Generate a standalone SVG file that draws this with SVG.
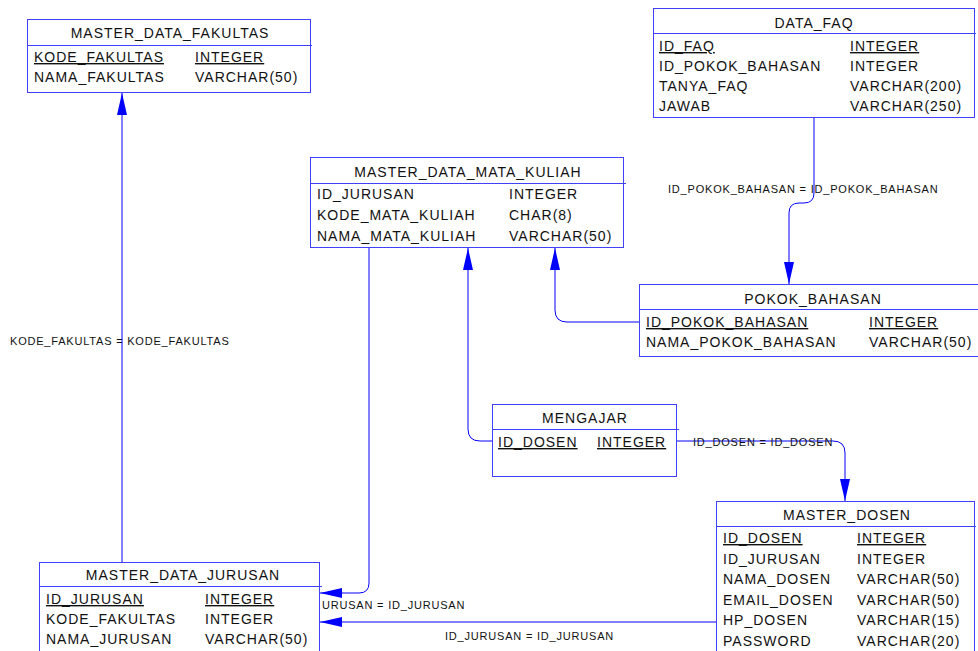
<svg xmlns="http://www.w3.org/2000/svg" width="978" height="651" viewBox="0 0 978 651">
  <style>
    .box { fill: #ffffff; stroke: #4040ff; stroke-width: 1; }
    .sep { stroke: #4040ff; stroke-width: 1; }
    .t { font-family: "Liberation Sans", Arial, sans-serif; font-size: 14px; letter-spacing: 1px; fill: #111111; }
    .title { text-anchor: middle; }
    .pk { text-decoration: underline; }
    .lbl { font-family: "Liberation Sans", Arial, sans-serif; font-size: 11px; letter-spacing: 0.8px; fill: #111111; }
    .conn { fill: none; stroke: #0000ff; stroke-width: 1; marker-end: url(#arrow); }
  </style>
  <defs>
    <marker id="arrow" markerUnits="userSpaceOnUse" markerWidth="22" markerHeight="10" refX="22" refY="5" orient="auto">
      <path d="M0,0 L22,5 L0,10 Z" fill="#0000ff"/>
    </marker>
  </defs>
  <rect width="978" height="651" fill="#ffffff"/>

  <!-- relationships -->
  <g id="connectors">
    <path class="conn" d="M122,562 V93"/>
    <path class="conn" d="M369,248 V583 Q369,593 359,593 H320"/>
    <path class="conn" d="M716,622 H320"/>
    <path class="conn" d="M492,441 H480 Q468,441 468,429 V248"/>
    <path class="conn" d="M639,322 H567 Q555,322 555,310 V248"/>
    <path class="conn" d="M814,118 V193 Q814,203 804,203 H799 Q789,203 789,213 V284"/>
    <path class="conn" d="M677,441 H833 Q845,441 845,453 V501"/>
    <text class="lbl" x="10" y="345">KODE_FAKULTAS = KODE_FAKULTAS</text>
    <text class="lbl" x="668" y="193">ID_POKOK_BAHASAN = ID_POKOK_BAHASAN</text>
    <text class="lbl" x="693" y="446">ID_DOSEN = ID_DOSEN</text>
    <text class="lbl" x="322" y="609">URUSAN = ID_JURUSAN</text>
    <text class="lbl" x="445" y="640">ID_JURUSAN = ID_JURUSAN</text>
  </g>

  <g id="master_data_fakultas">
    <rect class="box" x="27.5" y="19.5" width="283" height="73"/>
    <line class="sep" x1="27.5" y1="45.5" x2="312" y2="45.5"/>
    <text class="t title" x="170" y="38">MASTER_DATA_FAKULTAS</text>
    <text class="t pk" x="34" y="62">KODE_FAKULTAS</text>
    <text class="t pk" x="195" y="62">INTEGER</text>
    <text class="t" x="34" y="82">NAMA_FAKULTAS</text>
    <text class="t" x="195" y="82">VARCHAR(50)</text>
  </g>

  <g id="data_faq">
    <rect class="box" x="653.5" y="8.5" width="321" height="109"/>
    <line class="sep" x1="653.5" y1="33.5" x2="976" y2="33.5"/>
    <text class="t title" x="814" y="28">DATA_FAQ</text>
    <text class="t pk" x="659" y="51">ID_FAQ</text>
    <text class="t pk" x="850" y="51">INTEGER</text>
    <text class="t" x="659" y="71">ID_POKOK_BAHASAN</text>
    <text class="t" x="850" y="71">INTEGER</text>
    <text class="t" x="659" y="91">TANYA_FAQ</text>
    <text class="t" x="850" y="91">VARCHAR(200)</text>
    <text class="t" x="659" y="111">JAWAB</text>
    <text class="t" x="850" y="111">VARCHAR(250)</text>
  </g>

  <g id="master_data_mata_kuliah">
    <rect class="box" x="310.5" y="157.5" width="313" height="90"/>
    <line class="sep" x1="310.5" y1="183.5" x2="626" y2="183.5"/>
    <text class="t title" x="468" y="177">MASTER_DATA_MATA_KULIAH</text>
    <text class="t" x="317" y="199">ID_JURUSAN</text>
    <text class="t" x="509" y="199">INTEGER</text>
    <text class="t" x="317" y="220">KODE_MATA_KULIAH</text>
    <text class="t" x="509" y="220">CHAR(8)</text>
    <text class="t" x="317" y="241">NAMA_MATA_KULIAH</text>
    <text class="t" x="509" y="241">VARCHAR(50)</text>
  </g>

  <g id="pokok_bahasan">
    <rect class="box" x="639.5" y="284.5" width="345" height="72"/>
    <line class="sep" x1="639.5" y1="309.5" x2="984" y2="309.5"/>
    <text class="t title" x="813" y="304">POKOK_BAHASAN</text>
    <text class="t pk" x="646" y="327">ID_POKOK_BAHASAN</text>
    <text class="t pk" x="869" y="327">INTEGER</text>
    <text class="t" x="646" y="347">NAMA_POKOK_BAHASAN</text>
    <text class="t" x="869" y="347">VARCHAR(50)</text>
  </g>

  <g id="mengajar">
    <rect class="box" x="492.5" y="404.5" width="184" height="72"/>
    <line class="sep" x1="492.5" y1="429.5" x2="679" y2="429.5"/>
    <text class="t title" x="585" y="423">MENGAJAR</text>
    <text class="t pk" x="498" y="447">ID_DOSEN</text>
    <text class="t pk" x="597" y="447">INTEGER</text>
  </g>

  <g id="master_dosen">
    <rect class="box" x="716.5" y="501.5" width="258" height="160"/>
    <line class="sep" x1="716.5" y1="526.5" x2="976" y2="526.5"/>
    <text class="t title" x="847" y="520">MASTER_DOSEN</text>
    <text class="t pk" x="723" y="543">ID_DOSEN</text>
    <text class="t pk" x="857" y="543">INTEGER</text>
    <text class="t" x="723" y="564">ID_JURUSAN</text>
    <text class="t" x="857" y="564">INTEGER</text>
    <text class="t" x="723" y="584">NAMA_DOSEN</text>
    <text class="t" x="857" y="584">VARCHAR(50)</text>
    <text class="t" x="723" y="605">EMAIL_DOSEN</text>
    <text class="t" x="857" y="605">VARCHAR(50)</text>
    <text class="t" x="723" y="625">HP_DOSEN</text>
    <text class="t" x="857" y="625">VARCHAR(15)</text>
    <text class="t" x="723" y="646">PASSWORD</text>
    <text class="t" x="857" y="646">VARCHAR(20)</text>
  </g>

  <g id="master_data_jurusan">
    <rect class="box" x="39.5" y="562.5" width="280" height="100"/>
    <line class="sep" x1="39.5" y1="586.5" x2="322" y2="586.5"/>
    <text class="t title" x="183" y="580">MASTER_DATA_JURUSAN</text>
    <text class="t pk" x="46" y="604">ID_JURUSAN</text>
    <text class="t pk" x="205" y="604">INTEGER</text>
    <text class="t" x="46" y="624">KODE_FAKULTAS</text>
    <text class="t" x="205" y="624">INTEGER</text>
    <text class="t" x="46" y="644">NAMA_JURUSAN</text>
    <text class="t" x="205" y="644">VARCHAR(50)</text>
  </g>
</svg>
